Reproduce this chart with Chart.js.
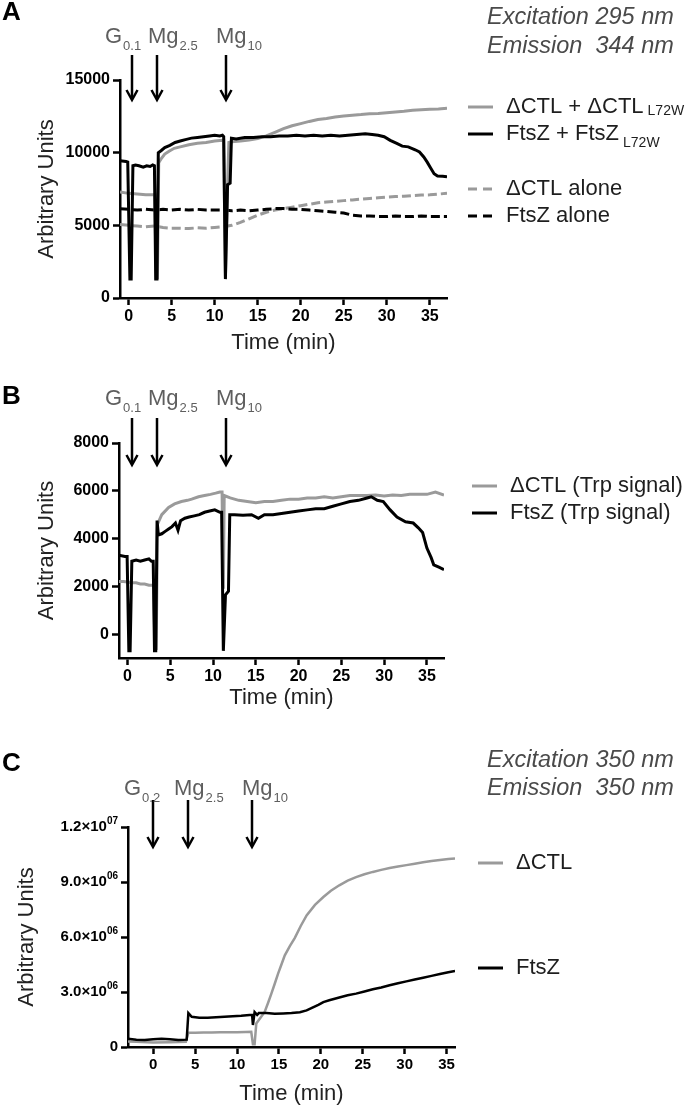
<!DOCTYPE html>
<html>
<head>
<meta charset="utf-8">
<script src="https://cdn.jsdelivr.net/npm/chart.js@4.4.1/dist/chart.umd.min.js"></script>
<style>
  html, body { margin: 0; padding: 0; background: #fff; }
  #wrap { position: relative; width: 693px; height: 1107px; }
  canvas { position: absolute; left: 0; }
</style>
</head>
<body>
<div id="wrap">
  <canvas id="panelA" width="693" height="360" style="top:0px"></canvas>
  <canvas id="panelB" width="693" height="360" style="top:360px"></canvas>
  <canvas id="panelC" width="693" height="387" style="top:720px"></canvas>
</div>
<script>
// ---------- data ----------
const xTicks = [0, 5, 10, 15, 20, 25, 30, 35];
const yTicksA = [0, 5000, 10000, 15000];
const yTicksB = [0, 2000, 4000, 6000, 8000];
const yTicksC = [0, 3e6, 6e6, 9e6, 1.2e7];
const yTickLabelsC = ['0', '3.0×10^06', '6.0×10^06', '9.0×10^06', '1.2×10^07'];

const namesA = ['FtsZ + FtsZ', 'ΔCTL + ΔCTL', 'FtsZ alone', 'ΔCTL alone'];
const subsA = ['L72W', 'L72W', '', ''];
const namesB = ['FtsZ (Trp signal)', 'ΔCTL (Trp signal)'];
const namesC = ['FtsZ', 'ΔCTL'];

const additionTimesA = [0.35, 3.3, 11.35];
const additionTimesB = [0.5, 3.4, 11.5];
const additionTimesC = [0, 4.2, 11.8];
const additionsAB = [['G', '0.1'], ['Mg', '2.5'], ['Mg', '10']];
const additionsC = [['G', '0.2'], ['Mg', '2.5'], ['Mg', '10']];
const conditionsA = ['Excitation 295 nm', 'Emission  344 nm'];
const conditionsC = ['Excitation 350 nm', 'Emission  350 nm'];

// panel A
const aFtsMixT = [-1, -0.3, -0.1, 0.15, 0.3, 0.5, 0.8, 1.2, 1.7, 2.1, 2.5, 2.8, 3.0, 3.15, 3.3, 3.45, 3.8, 4.2, 4.8, 5.4, 6.0, 6.6, 7.3, 8.0, 8.7, 9.4, 10.0, 10.6, 10.9, 11.05, 11.25, 11.5, 11.8, 11.95, 12.5, 13.5, 14.5, 15.5, 16.5, 17.5, 18.5, 19.5, 20.5, 21.5, 22.5, 23.5, 24.5, 25.5, 26.5, 27.5, 28.3, 29.0, 29.7, 30.4, 31.1, 31.8, 32.5, 33.3, 33.8, 34.3, 34.7, 35.1, 35.5, 35.9, 36.5, 37.0];
const aFtsMixV = [9450, 9400, 9350, 1300, 1300, 9100, 9150, 9100, 9000, 9100, 9050, 9150, 9100, 1300, 1300, 10000, 10150, 10350, 10500, 10700, 10800, 10900, 11000, 11050, 11100, 11150, 11200, 11150, 11200, 11100, 1300, 7800, 7900, 11000, 10950, 11050, 11050, 11100, 11100, 11150, 11150, 11200, 11150, 11200, 11150, 11200, 11150, 11200, 11250, 11300, 11250, 11200, 11100, 10850, 10650, 10450, 10400, 10200, 10050, 9700, 9350, 8950, 8550, 8400, 8380, 8350];
const aCtlMixT = [-1, 0, 1, 2, 2.9, 3.05, 3.2, 3.35, 3.5, 3.8, 4.2, 4.7, 5.3, 6.0, 7.0, 8.0, 9.0, 10.0, 10.9, 11.05, 11.25, 11.5, 11.65, 12, 13, 14, 15, 16, 17, 18, 19, 20, 21, 22, 23, 24, 25, 26, 27, 28, 29, 30, 31, 32, 33, 34, 35, 36, 37];
const aCtlMixV = [7300, 7200, 7150, 7100, 7100, 7100, 1400, 1400, 9300, 9600, 9900, 10100, 10300, 10400, 10550, 10650, 10700, 10800, 10850, 10850, 1400, 7700, 10700, 10750, 10800, 10870, 10980, 11150, 11400, 11650, 11850, 12000, 12150, 12280, 12350, 12450, 12520, 12580, 12620, 12680, 12700, 12750, 12800, 12850, 12920, 12950, 12980, 13000, 13050];
const aFtsAloneT = [-1, 0, 1, 2, 3, 4, 5, 6, 7, 8, 9, 10, 11, 12, 13, 14, 15, 16, 17, 18, 19, 20, 21, 22, 23, 24, 25, 26, 27, 28, 29, 30, 31, 32, 33, 34, 35, 36, 37];
const aFtsAloneV = [6150, 6100, 6050, 6100, 6050, 6100, 6050, 6100, 6050, 6100, 6050, 6050, 6050, 6000, 6050, 6000, 6050, 6100, 6150, 6150, 6100, 6100, 6050, 6000, 5950, 5900, 5850, 5700, 5650, 5650, 5600, 5600, 5650, 5600, 5600, 5650, 5600, 5600, 5600];
const aCtlAloneT = [-1, 0, 1, 2, 3, 4, 5, 6, 7, 8, 9, 10, 11, 12, 13, 14, 15, 16, 17, 18, 19, 20, 21, 22, 23, 24, 25, 26, 27, 28, 29, 30, 31, 32, 33, 34, 35, 36, 37];
const aCtlAloneV = [5050, 5000, 4950, 4900, 4950, 4850, 4800, 4800, 4780, 4830, 4800, 4850, 4900, 5000, 5200, 5450, 5700, 5900, 6050, 6150, 6250, 6350, 6450, 6550, 6600, 6650, 6700, 6750, 6800, 6850, 6900, 6950, 6980, 7000, 7050, 7080, 7100, 7150, 7200];

// panel B
const bFtsT = [-1, -0.3, -0.05, 0.15, 0.3, 0.5, 1.0, 1.5, 2.0, 2.5, 2.8, 3.0, 3.15, 3.3, 3.45, 3.6, 4.0, 4.4, 4.8, 5.2, 5.6, 5.9, 6.2, 6.7, 7.2, 7.8, 8.4, 9.0, 9.6, 10.2, 10.8, 11.0, 11.2, 11.45, 11.8, 11.95, 12.5, 13.5, 14.5, 15.3, 16, 17, 18, 19, 20, 21, 22, 23, 24, 25, 26, 27, 28, 28.5, 29.2, 29.9, 30.7, 31.5, 32.5, 33.4, 34.0, 34.5, 35.0, 35.5, 35.8, 36.4, 37.0];
const bFtsV = [3300, 3250, 3250, -700, -700, 3050, 3100, 3050, 3100, 3150, 3050, 3050, -700, -700, 4750, 4150, 4200, 4300, 4400, 4500, 4650, 4350, 4750, 4850, 4900, 4950, 5000, 5100, 5150, 5200, 5100, 5100, -700, 1650, 1800, 5000, 5000, 4980, 5000, 4850, 5000, 5000, 5050, 5100, 5150, 5200, 5250, 5250, 5350, 5450, 5550, 5600, 5700, 5750, 5600, 5550, 5200, 4900, 4700, 4650, 4450, 4250, 3600, 3200, 2900, 2800, 2700];
const bCtlT = [-1, -0.5, 0, 0.5, 1, 1.5, 2, 2.5, 3.05, 3.2, 3.35, 3.5, 4.0, 4.8, 5.5, 6.3, 7.0, 7.5, 8.3, 9.0, 9.7, 10.3, 10.8, 11.05, 11.2, 11.3, 12, 13, 14, 15, 16, 17, 18, 19, 20, 21, 22, 23, 24, 25, 26, 27, 28, 29, 30, 31, 32, 33, 34, 35, 36, 37];
const bCtlV = [2200, 2200, 2180, 2150, 2150, 2100, 2100, 2050, 2050, -600, -600, 4600, 5000, 5300, 5450, 5550, 5600, 5650, 5750, 5800, 5850, 5900, 5950, 5950, 1900, 5800, 5700, 5600, 5550, 5500, 5550, 5550, 5600, 5650, 5650, 5700, 5700, 5750, 5700, 5750, 5800, 5800, 5800, 5820, 5780, 5820, 5800, 5850, 5850, 5850, 5950, 5820];

// panel C
const cFtsT = [-3, -2, -1, 0, 1, 2, 3, 4.0, 4.2, 4.6, 5.5, 6.5, 7.5, 8.5, 9.5, 10.5, 11.5, 11.8, 11.9, 12.1, 12.4, 12.6, 13.5, 14.5, 15.5, 16.5, 17.5, 18.3, 19.0, 19.7, 20.3, 21.0, 22.2, 23.2, 24.2, 25.2, 26.2, 27.2, 28.2, 29.2, 30.2, 31.2, 32.2, 33.2, 34.2, 35.2, 36.0];
const cFtsV = [450000, 400000, 380000, 420000, 450000, 420000, 380000, 400000, 1850000, 1650000, 1600000, 1600000, 1620000, 1650000, 1680000, 1700000, 1750000, 1750000, 1200000, 1900000, 1750000, 1850000, 1850000, 1820000, 1830000, 1850000, 1900000, 2000000, 2150000, 2300000, 2450000, 2550000, 2700000, 2820000, 2910000, 3030000, 3150000, 3250000, 3370000, 3480000, 3580000, 3680000, 3780000, 3880000, 3980000, 4080000, 4150000];
const cCtlT = [-3, -2, 0, 2, 3.9, 4.2, 5, 6, 7, 8, 9, 10, 11, 11.7, 11.9, 12.1, 12.3, 12.8, 13.3, 13.7, 14.1, 14.5, 14.9, 15.3, 15.7, 16.3, 16.9, 17.6, 18.3, 19.3, 20.3, 21.2, 22.2, 23.2, 24.2, 25.2, 26.2, 27.2, 28.2, 29.2, 30.2, 31.2, 32.2, 33.2, 34.2, 35.2, 36.0];
const cCtlV = [300000, 280000, 250000, 260000, 280000, 780000, 780000, 790000, 790000, 800000, 800000, 800000, 820000, 830000, 150000, 150000, 1280000, 1600000, 1910000, 2400000, 2910000, 3450000, 4000000, 4500000, 5000000, 5500000, 5950000, 6600000, 7180000, 7750000, 8180000, 8520000, 8820000, 9070000, 9270000, 9420000, 9550000, 9660000, 9760000, 9840000, 9920000, 10000000, 10080000, 10140000, 10200000, 10250000, 10280000];

// ---------- drawing ----------
const FONT = '"Liberation Sans", Arial, sans-serif';
const GRAY = '#9a9a9a';

function pts(ts, vs) { return ts.map((t, i) => ({ x: t, y: vs[i] })); }

function subText(ctx, x, y, main, sub, size, subSize, subDy, gap, color, baseline) {
  ctx.fillStyle = color;
  ctx.textAlign = 'left';
  ctx.textBaseline = baseline;
  ctx.font = size + 'px ' + FONT;
  ctx.fillText(main, x, y);
  if (sub) {
    const w = ctx.measureText(main).width;
    ctx.font = subSize + 'px ' + FONT;
    ctx.fillText(sub, x + w + gap, y + subDy);
  }
}

const annotate = {
  id: 'annotate',
  afterDraw(chart, args, o) {
    const ctx = chart.ctx, area = chart.chartArea, xs = chart.scales.x, ys = chart.scales.y;
    ctx.save();
    // panel letter
    ctx.fillStyle = '#000';
    ctx.font = 'bold 26px ' + FONT;
    ctx.textAlign = 'left';
    ctx.textBaseline = 'middle';
    ctx.fillText(o.letter, 2, o.letterY);
    // y tick labels with a raised exponent (panel C)
    if (o.expLabels) {
      o.expLabels.forEach((lab, i) => {
        const [m, e] = lab.split('^');
        const y = ys.getPixelForValue(o.expTicks[i]);
        const right = area.left - 10;
        ctx.fillStyle = '#000';
        ctx.textBaseline = 'middle';
        ctx.textAlign = 'left';
        ctx.font = 'bold 10px ' + FONT;
        const we = e ? ctx.measureText(e).width : 0;
        ctx.font = 'bold 15px ' + FONT;
        const wm = ctx.measureText(m).width;
        ctx.fillText(m, right - we - wm, y);
        if (e) {
          ctx.font = 'bold 10px ' + FONT;
          ctx.fillText(e, right - we, y - 6);
        }
      });
    }
    // additions: arrows + labels
    o.times.forEach((t, i) => {
      const x = Math.round(xs.getPixelForValue(t));
      const y0 = area.top + o.arrowFrom, y1 = area.top + o.arrowTo;
      ctx.strokeStyle = '#000';
      ctx.lineWidth = 2.5;
      ctx.beginPath(); ctx.moveTo(x, y0); ctx.lineTo(x, y1 - 1); ctx.stroke();
      ctx.beginPath(); ctx.moveTo(x - 5.5, y1 - 10); ctx.lineTo(x, y1); ctx.lineTo(x + 5.5, y1 - 10); ctx.stroke();
      subText(ctx, x + o.labelDx[i], area.top + o.labelDy, o.labels[i][0], o.labels[i][1], 22, 13, 7, 1, '#5e5e5e', 'alphabetic');
    });
    // excitation / emission note
    if (o.conditions) {
      ctx.fillStyle = '#4a4a4a';
      ctx.font = 'italic 23.5px ' + FONT;
      ctx.textBaseline = 'middle';
      o.conditions.forEach((c, i) => ctx.fillText(c, 487, o.condY[i]));
    }
    // legend
    chart.data.datasets.forEach((ds, i) => {
      const y = o.legendY[i];
      ctx.strokeStyle = ds.borderColor;
      ctx.lineWidth = 3;
      ctx.setLineDash(ds.borderDash ? [9, 6] : []);
      ctx.beginPath(); ctx.moveTo(o.legendX, y); ctx.lineTo(o.legendX + 25, y); ctx.stroke();
      ctx.setLineDash([]);
      subText(ctx, o.legendX + 38, y, ds.label, ds.sub, 22, 14, ds.subDy || 0, 4, '#1e1e1e', 'middle');
    });
    ctx.restore();
  }
};

function makePanel(p) {
  return new Chart(document.getElementById(p.canvas), {
    type: 'line',
    data: { datasets: p.datasets },
    options: {
      responsive: false,
      animation: false,
      events: [],
      layout: { padding: p.padding },
      elements: { point: { radius: 0 }, line: { tension: 0 } },
      plugins: { legend: { display: false }, tooltip: { enabled: false }, annotate: p.annot },
      scales: {
        x: {
          type: 'linear', min: p.xMin, max: p.xMax,
          afterFit: s => { s.height = p.xAxisH; },
          afterBuildTicks: s => { s.ticks = xTicks.map(v => ({ value: v })); },
          border: { display: true, color: '#000', width: 2.5 },
          grid: { display: true, drawOnChartArea: false, drawTicks: true, tickLength: 7, tickWidth: 2.5, tickColor: '#000' },
          ticks: { color: '#000', font: { family: FONT, size: p.xTickSize, weight: 'bold' }, padding: 2, maxRotation: 0, autoSkip: false, callback: v => String(v) },
          title: { display: true, text: 'Time (min)', color: '#222', font: { family: FONT, size: 22 }, padding: 0 }
        },
        y: {
          type: 'linear', min: p.yMin, max: p.yMax,
          afterFit: s => { s.width = p.yAxisW; },
          afterBuildTicks: s => { s.ticks = p.yTicks.map(v => ({ value: v })); },
          border: { display: true, color: '#000', width: 2.5 },
          grid: { display: true, drawOnChartArea: false, drawTicks: true, tickLength: 7, tickWidth: 2.5, tickColor: '#000' },
          ticks: { color: '#000', font: { family: FONT, size: 16, weight: 'bold' }, padding: 3, autoSkip: false,
                   callback: v => p.plainY ? String(v) : '' },
          title: { display: true, text: 'Arbitrary Units', color: '#222', font: { family: FONT, size: 22 }, padding: { top: p.yTitleOff, bottom: 0 } }
        }
      }
    },
    plugins: [annotate]
  });
}

const solid = (label, color, t, v, extra) => Object.assign({ label, data: pts(t, v), borderColor: color, borderWidth: 3, fill: false }, extra || {});

makePanel({
  canvas: 'panelA', xMin: -1, xMax: 37, yMin: 0, yMax: 15000, yTicks: yTicksA, plainY: true, xTickSize: 16,
  padding: { top: 80, left: 0, right: 246, bottom: 4 }, xAxisH: 58, yAxisW: 120, yTitleOff: 34,
  datasets: [
    solid(namesA[0], '#000', aFtsMixT, aFtsMixV, { sub: subsA[0], subDy: 9 }),
    solid(namesA[1], GRAY, aCtlMixT, aCtlMixV, { sub: subsA[1], subDy: 4 }),
    solid(namesA[2], '#000', aFtsAloneT, aFtsAloneV, { borderDash: [9, 4] }),
    solid(namesA[3], GRAY, aCtlAloneT, aCtlAloneV, { borderDash: [9, 4] })
  ],
  annot: { letter: 'A', letterY: 13, times: additionTimesA, labels: additionsAB, labelDx: [-27, -9, -10],
           arrowFrom: -25, arrowTo: 20, labelDy: -37, conditions: conditionsA, condY: [17, 46],
           legendX: 468, legendY: [134, 107, 216, 189] }
});

makePanel({
  canvas: 'panelB', xMin: -1, xMax: 37, yMin: -1000, yMax: 8000, yTicks: yTicksB, plainY: true, xTickSize: 16,
  padding: { top: 83, left: 0, right: 249, bottom: 9 }, xAxisH: 53, yAxisW: 119, yTitleOff: 34,
  datasets: [
    solid(namesB[0], '#000', bFtsT, bFtsV),
    solid(namesB[1], GRAY, bCtlT, bCtlV)
  ],
  annot: { letter: 'B', letterY: 37, times: additionTimesB, labels: additionsAB, labelDx: [-27, -9, -10],
           arrowFrom: -25, arrowTo: 22, labelDy: -38,
           legendX: 472, legendY: [153, 126] }
});

makePanel({
  canvas: 'panelC', xMin: -3, xMax: 36, yMin: 0, yMax: 1.2e7, yTicks: yTicksC, plainY: false, xTickSize: 15,
  padding: { top: 107, left: 0, right: 238, bottom: 0 }, xAxisH: 60, yAxisW: 128, yTitleOff: 14,
  datasets: [
    solid(namesC[0], '#000', cFtsT, cFtsV, { borderWidth: 2.5 }),
    solid(namesC[1], GRAY, cCtlT, cCtlV, { borderWidth: 2.5 })
  ],
  annot: { letter: 'C', letterY: 44, times: additionTimesC, labels: additionsC, labelDx: [-29, -14, -10],
           arrowFrom: -27, arrowTo: 20, labelDy: -32, conditions: conditionsC, condY: [40, 68],
           legendX: 478, legendY: [248, 143], expTicks: yTicksC, expLabels: yTickLabelsC }
});
</script>
</body>
</html>
